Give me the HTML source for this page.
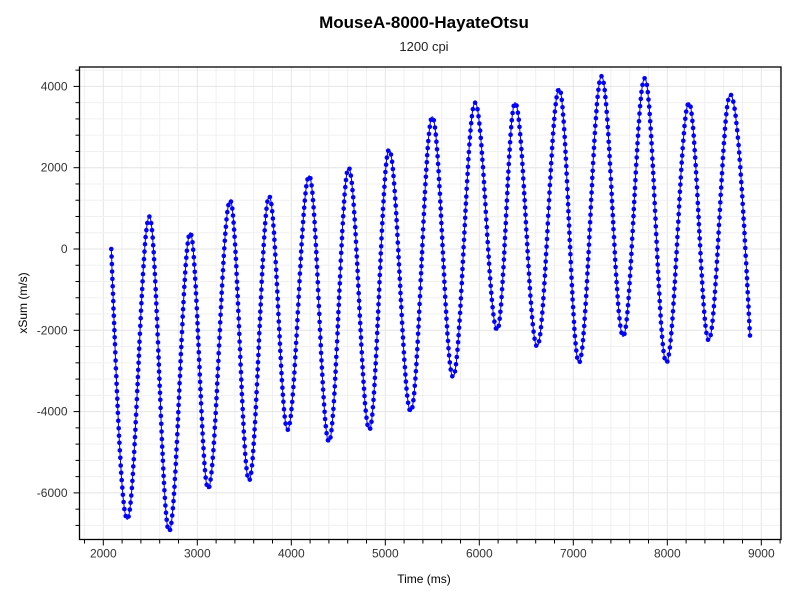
<!DOCTYPE html>
<html><head><meta charset="utf-8"><style>
body{margin:0;background:#fff;width:800px;height:600px;overflow:hidden;font-family:"Liberation Sans","DejaVu Sans",sans-serif}
</style></head><body>
<svg id="s" width="800" height="600" xmlns="http://www.w3.org/2000/svg">
<rect width="800" height="600" fill="#fff"/>
<text x="424" y="28" text-anchor="middle" font-size="17" font-weight="bold" fill="#000">MouseA-8000-HayateOtsu</text>
<text x="424" y="51" text-anchor="middle" font-size="13" fill="#222">1200 cpi</text>
<g id="grid"></g>
<g id="data"></g>
<rect x="79.5" y="67" width="701.5" height="472.5" fill="none" stroke="#000" stroke-width="1.3"/>
<g id="ticks" font-size="12" fill="#333"></g>
<text x="424" y="583" text-anchor="middle" font-size="12" fill="#000">Time (ms)</text>
<text x="27" y="303" text-anchor="middle" font-size="12" fill="#000" transform="rotate(-90 27 303)">xSum (m/s)</text>
</svg>
<script>
var L=79.5,R=781,T=67,B=539.5;
function X(t){return 103.3+(t-2000)*0.094;}
function Y(v){return 249-v*0.04065;}
var g='',tk='';
for(var t=1800;t<=9200;t+=200){var x=X(t);if(x<L||x>R)continue;
 var maj=t%1000==0;
 g+='<line x1="'+x+'" y1="'+T+'" x2="'+x+'" y2="'+B+'" stroke="'+(maj?'#e4e4e4':'#f0f0f0')+'"/>';
 tk+='<line x1="'+x+'" y1="'+B+'" x2="'+x+'" y2="'+(B+(maj?6:4))+'" stroke="#000"/>';
 if(maj)tk+='<text x="'+x+'" y="'+(B+18)+'" text-anchor="middle">'+t+'</text>';}
for(var v=-7200;v<=4400;v+=400){var y=Y(v);if(y<T||y>B)continue;
 var maj=v%2000==0;
 g+='<line x1="'+L+'" y1="'+y+'" x2="'+R+'" y2="'+y+'" stroke="'+(maj?'#e4e4e4':'#f0f0f0')+'"/>';
 tk+='<line x1="'+(L-(maj?6:4))+'" y1="'+y+'" x2="'+L+'" y2="'+y+'" stroke="#000"/>';
 if(maj)tk+='<text x="'+(L-12)+'" y="'+(y+4)+'" text-anchor="end">'+v+'</text>';}
document.getElementById('grid').innerHTML=g;
document.getElementById('ticks').innerHTML=tk;
var E=[[2085,0],[2255,-6650],[2490,800],[2700,-6950],[2925,400],[3115,-5900],[3350,1200],[3550,-5700],[3765,1300],[3960,-4450],[4190,1800],[4400,-4750],[4610,2000],[4830,-4450],[5040,2450],[5270,-4000],[5500,3250],[5720,-3150],[5955,3600],[6190,-2000],[6380,3600],[6615,-2400],[6850,3950],[7060,-2800],[7300,4250],[7530,-2150],[7760,4200],[7990,-2800],[8230,3600],[8440,-2250],[8670,3800],[8880,-2150]];
function f(t){for(var i=0;i<E.length-1;i++){if(t<=E[i+1][0]){var a=E[i],b=E[i+1];var u=(t-a[0])/(b[0]-a[0]);
 if(i==0){return a[1]+(b[1]-a[1])*Math.sin(u*Math.PI/2);} 
 if(i==E.length-2){return a[1]+(b[1]-a[1])*(1-Math.cos(u*Math.PI/2));}
 return a[1]+(b[1]-a[1])*(1-Math.cos(u*Math.PI))/2;}}return E[E.length-1][1];}
var p='',d='',acc=7,px=null,py=null;
for(var t=2085;t<=8880;t+=0.5){var x=X(t),y=Y(f(t));
 if(t%2==0||t==2085)p+=(t==2085?'M':'L')+x.toFixed(1)+' '+y.toFixed(1);
 if(px!==null)acc+=Math.hypot(x-px,y-py);
 if(acc>=7){d+='<circle cx="'+x.toFixed(1)+'" cy="'+y.toFixed(1)+'" r="2.3"/>';acc=0;}
 px=x;py=y;}
document.getElementById('data').innerHTML='<path d="'+p+'" fill="none" stroke="#0000ff" stroke-width="1"/><g fill="#0000ff">'+d+'</g>';
</script>
</body></html>
